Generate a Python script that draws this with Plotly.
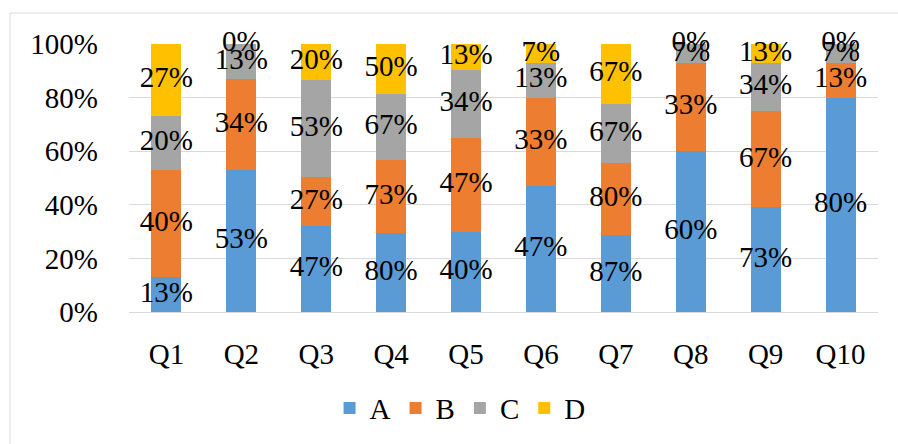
import plotly.graph_objects as go

categories = ["Q1", "Q2", "Q3", "Q4", "Q5", "Q6", "Q7", "Q8", "Q9", "Q10"]
series_names = ["A", "B", "C", "D"]
A = [13, 53, 47, 80, 40, 47, 87, 60, 73, 80]
B = [40, 34, 27, 73, 47, 33, 80, 33, 67, 13]
C = [20, 13, 53, 67, 34, 13, 67, 7, 34, 7]
D = [27, 0, 20, 50, 13, 7, 67, 0, 13, 0]
colors = ["#5B9BD5", "#ED7D31", "#A5A5A5", "#FFC000"]
y_ticks = [0, 20, 40, 60, 80, 100]
y_tick_labels = ["0%", "20%", "40%", "60%", "80%", "100%"]

series = [A, B, C, D]
FONT = "Liberation Serif, Times New Roman, serif"
FS = 29

fig = go.Figure()
for name, vals, col in zip(series_names, series, colors):
    fig.add_trace(go.Bar(x=categories, y=vals, name=name, marker=dict(color=col, line=dict(width=0))))

# label positions: centers of normalized segments
totals = [sum(s[i] for s in series) for i in range(len(categories))]
for k in range(len(series)):
    xs, ys, ts = [], [], []
    for i, cat in enumerate(categories):
        below = sum(series[j][i] for j in range(k)) / totals[i] * 100
        h = series[k][i] / totals[i] * 100
        xs.append(cat)
        ys.append(below + h / 2)
        ts.append(f"{series[k][i]}%")
    fig.add_trace(go.Scatter(x=xs, y=ys, text=ts, mode="text", showlegend=False,
                             hoverinfo="skip", textposition="middle center", cliponaxis=False,
                             textfont=dict(family=FONT, size=FS, color="black")))

fig.update_layout(
    barmode="stack", barnorm="percent", bargap=0.6,
    width=898, height=444,
    margin=dict(l=129, r=20, t=44, b=131),
    plot_bgcolor="white", paper_bgcolor="white",
    font=dict(family=FONT, size=FS, color="black"),
    legend=dict(orientation="h", x=0.442, xanchor="center", y=-0.354, yanchor="middle",
                font=dict(family=FONT, size=FS), itemwidth=30, traceorder="normal"),
    showlegend=True,
)
fig.update_yaxes(range=[0, 100], tickmode="array", tickvals=y_ticks, ticktext=y_tick_labels,
                 showgrid=True, gridcolor="#D9D9D9", gridwidth=1, zeroline=False, showline=False,
                 ticklabelstandoff=30, tickfont=dict(family=FONT, size=FS))
fig.update_xaxes(showgrid=False, showline=True, linecolor="#D9D9D9", linewidth=1,
                 ticks="", ticklabelstandoff=16, tickfont=dict(family=FONT, size=FS))

fig.add_shape(type="rect", xref="paper", yref="paper",
              x0=(10 - 129) / 749, x1=1.2, y0=(313 - 14) / 268, y1=-0.8,
              line=dict(color="#D9D9D9", width=1), fillcolor="rgba(0,0,0,0)", layer="below")

fig.write_html("out.html", config={"displayModeBar": False},
               post_script="document.body.style.margin='0';")
